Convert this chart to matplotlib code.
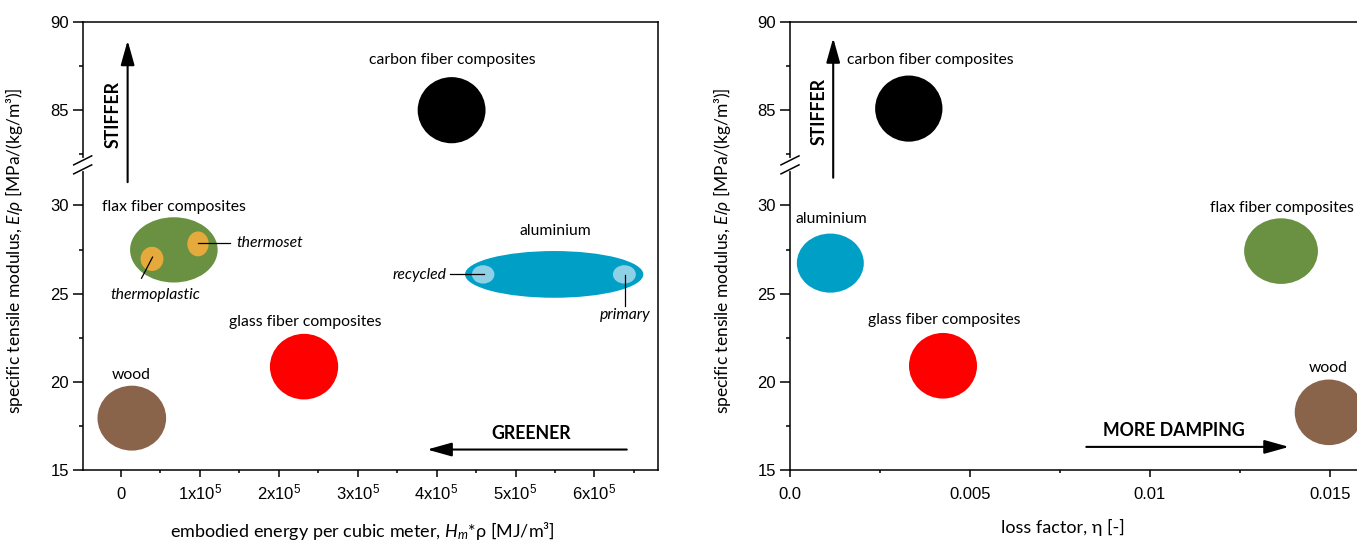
import numpy as np
import matplotlib
matplotlib.use("Agg")
import matplotlib.pyplot as plt
from matplotlib.patches import Ellipse, ArrowStyle

plt.rcParams['font.family'] = ['Lato', 'DejaVu Sans']
plt.rcParams['mathtext.fontset'] = 'custom'
plt.rcParams['mathtext.rm'] = 'Liberation Sans'
plt.rcParams['mathtext.it'] = 'Lato:italic'
plt.rcParams['mathtext.bf'] = 'Lato:bold'

# ---------------- data ----------------
# left panel: embodied energy vs specific modulus
mat_left = ['carbon fiber composites', 'flax fiber composites', 'aluminium',
            'glass fiber composites', 'wood']
energy_c = [4.19e5, 0.67e5, 5.49e5, 2.32e5, 0.137e5]
energy_w = [0.86e5, 1.11e5, 2.26e5, 0.865e5, 0.87e5]
modL_c = [85.0, 27.48, 26.09, 20.86, 17.94]
modL_h = [3.75, 3.7, 2.65, 3.72, 3.68]
colors_left = ['#000000', '#699141', '#00a0c6', '#ff0000', '#8a634b']
label_left_x = [4.2e5, 0.675e5, 5.5e5, 2.34e5, 0.128e5]
label_left_y = [87.85, 29.93, 28.54, 23.39, 20.39]

sub_names = ['thermoplastic', 'thermoset', 'recycled', 'primary']
sub_x = [0.393e5, 0.976e5, 4.59e5, 6.38e5]
sub_y = [26.97, 27.82, 26.09, 26.09]
sub_w = [0.29e5, 0.27e5, 0.285e5, 0.29e5]
sub_h = [1.37, 1.41, 1.04, 1.04]
sub_colors = ['#e6aa3c', '#e6aa3c', '#8ed1e6', '#8ed1e6']

# right panel: loss factor vs specific modulus
mat_right = ['carbon fiber composites', 'aluminium', 'glass fiber composites',
             'flax fiber composites', 'wood']
loss_c = [0.0033, 0.00112, 0.00425, 0.01364, 0.01497]
loss_w = [0.00187, 0.00186, 0.00189, 0.00205, 0.0019]
modR_c = [85.09, 26.73, 20.91, 27.41, 18.27]
modR_h = [3.75, 3.35, 3.72, 3.72, 3.72]
colors_right = ['#000000', '#00a0c6', '#ff0000', '#699141', '#8a634b']
label_right_x = [0.00157, 0.00115, 0.00428, 0.01566, 0.01494]
label_right_y = [87.86, 29.23, 23.52, 29.88, 20.76]
label_right_ha = ['left', 'center', 'center', 'right', 'center']

yticks_major = [15, 20, 25, 30, 85, 90]
yticks_minor = [17.5, 22.5, 27.5, 82.5, 87.5]
xticksL = [0, 1e5, 2e5, 3e5, 4e5, 5e5, 6e5]
xticksL_labels = ['0', '1x10$^5$', '2x10$^5$', '3x10$^5$', '4x10$^5$', '5x10$^5$', '6x10$^5$']
xticksL_minor = [0.5e5, 1.5e5, 2.5e5, 3.5e5, 4.5e5, 5.5e5, 6.5e5]
xticksR = [0.0, 0.005, 0.01, 0.015]
xticksR_labels = ['0.0', '0.005', '0.01', '0.015']
xticksR_minor = [0.0025, 0.0075, 0.0125]

# broken y axis via a piecewise-linear scale
BP_V = [-1e4, 31.9, 82.3, 1e4]
BP_T = [-1e4, 31.9, 32.7, 1e4 - 49.6]


def fwd(v):
    return np.interp(v, BP_V, BP_T)


def inv(t):
    return np.interp(t, BP_T, BP_V)


W, H = 1357, 541
fig = plt.figure(figsize=(W / 100, H / 100), dpi=100)
axL = fig.add_axes([82.7 / W, 71 / H, 575.3 / W, 448 / H])
axR = fig.add_axes([790 / W, 71 / H, 590 / W, 448 / H])

arrow_style = ArrowStyle('-|>', head_length=1.5, head_width=0.42)
FS_ANN = 11.3
FS_BOLD = 12.8
FS_TICK = 12


def style_axis(ax, wpx):
    ax.set_yscale('function', functions=(fwd, inv))
    ax.set_ylim(15, 90)
    ax.set_yticks(yticks_major)
    ax.set_yticklabels([str(v) for v in yticks_major])
    ax.set_yticks(yticks_minor, minor=True)
    for s in ax.spines.values():
        s.set_linewidth(1.1)
    ax.tick_params(axis='y', which='major', direction='out', length=7, width=1.1,
                   labelsize=FS_TICK, pad=3, labelfontfamily='Liberation Sans')
    ax.tick_params(axis='y', which='minor', direction='out', length=3, width=1.1)
    ax.tick_params(axis='x', which='major', direction='out', length=5, width=1.1,
                   labelsize=FS_TICK, pad=16, labelfontfamily='Liberation Sans')
    ax.tick_params(axis='x', which='minor', direction='out', length=2.5, width=1.1)
    # break marks on the left spine
    t0, t1 = fwd(15), fwd(90)
    yb = (0.5 * (fwd(31.9) + fwd(82.3)) - t0) / (t1 - t0)
    hpx = 448.0
    ax.plot([0, 0], [yb - 4.5 / hpx, yb + 4.5 / hpx], transform=ax.transAxes,
            color='white', lw=3, clip_on=False, zorder=5)
    for off in (-4.5, 4.5):
        ax.plot([-9 / wpx, 9 / wpx],
                [yb + (off - 4.5) / hpx, yb + (off + 4.5) / hpx],
                transform=ax.transAxes, color='black', lw=1.1,
                clip_on=False, zorder=6)


# ---------------- left panel ----------------
style_axis(axL, 575.3)
axL.set_xlim(-48540, 680600)
axL.set_xticks(xticksL)
axL.set_xticklabels(xticksL_labels)
axL.set_xticks(xticksL_minor, minor=True)
for lab in axL.get_xticklabels():
    lab.set_verticalalignment('baseline')

for x, y, w, h, c in zip(energy_c, modL_c, energy_w, modL_h, colors_left):
    axL.add_patch(Ellipse((x, y), w, h, facecolor=c, edgecolor='none', zorder=2))
for x, y, w, h, c in zip(sub_x, sub_y, sub_w, sub_h, sub_colors):
    axL.add_patch(Ellipse((x, y), w, h, facecolor=c, edgecolor='none', zorder=3))
for name, x, y in zip(mat_left, label_left_x, label_left_y):
    axL.text(x, y, name, ha='center', va='center', fontsize=FS_ANN)

# sub labels + leader lines
axL.plot([0.40e5, 0.26e5], [27.07, 25.87], color='k', lw=0.9, zorder=4)
axL.text(0.44e5, 24.9, 'thermoplastic', ha='center', va='center',
         fontsize=FS_ANN, style='italic')
axL.plot([0.982e5, 1.387e5], [27.87, 27.87], color='k', lw=0.9, zorder=4)
axL.text(1.458e5, 27.86, 'thermoset', ha='left', va='center',
         fontsize=FS_ANN, style='italic')
axL.plot([4.17e5, 4.6e5], [26.09, 26.09], color='k', lw=0.9, zorder=4)
axL.text(4.12e5, 26.06, 'recycled', ha='right', va='center',
         fontsize=FS_ANN, style='italic')
axL.plot([6.39e5, 6.39e5], [26.06, 24.32], color='k', lw=0.9, zorder=4)
axL.text(6.39e5, 23.8, 'primary', ha='center', va='center',
         fontsize=FS_ANN, style='italic')

# arrows
axL.annotate('', xy=(0.084e5, 88.95), xytext=(0.084e5, 31.32),
             arrowprops=dict(arrowstyle=arrow_style, mutation_scale=10, lw=1.5,
                             color='k', shrinkA=0, shrinkB=0))
axL.text(-0.1e5, 84.73, 'STIFFER', rotation=90, ha='center', va='center',
         fontsize=FS_BOLD, fontweight='bold')
axL.annotate('', xy=(3.88e5, 16.16), xytext=(6.41e5, 16.16),
             arrowprops=dict(arrowstyle=arrow_style, mutation_scale=10, lw=1.5,
                             color='k', shrinkA=0, shrinkB=0))
axL.text(5.2e5, 17.07, 'GREENER', ha='center', va='center',
         fontsize=FS_BOLD, fontweight='bold')

axL.set_ylabel('specific tensile modulus, $E/\\rho$ [MPa/(kg/m³)]', fontsize=12.5)
axL.yaxis.set_label_coords(-0.1003, 0.49)
axL.set_xlabel('embodied energy per cubic meter, $H_m$*ρ [MJ/m³]', fontsize=13,
               va='center')
axL.xaxis.set_label_coords(0.4855, -0.136)

# ---------------- right panel ----------------
style_axis(axR, 590.0)
axR.set_xlim(0, 590 / 36000)
axR.set_xticks(xticksR)
axR.set_xticklabels(xticksR_labels)
axR.set_xticks(xticksR_minor, minor=True)
for lab in axR.get_xticklabels():
    lab.set_verticalalignment('baseline')

for x, y, w, h, c in zip(loss_c, modR_c, loss_w, modR_h, colors_right):
    axR.add_patch(Ellipse((x, y), w, h, facecolor=c, edgecolor='none', zorder=2))
for name, x, y, ha in zip(mat_right, label_right_x, label_right_y, label_right_ha):
    axR.text(x, y, name, ha=ha, va='center', fontsize=FS_ANN)

axR.annotate('', xy=(0.0012, 89.09), xytext=(0.0012, 31.57),
             arrowprops=dict(arrowstyle=arrow_style, mutation_scale=10, lw=1.5,
                             color='k', shrinkA=0, shrinkB=0))
axR.text(0.00081, 84.93, 'STIFFER', rotation=90, ha='center', va='center',
         fontsize=FS_BOLD, fontweight='bold')
axR.annotate('', xy=(0.01386, 16.31), xytext=(0.00823, 16.31),
             arrowprops=dict(arrowstyle=arrow_style, mutation_scale=10, lw=1.5,
                             color='k', shrinkA=0, shrinkB=0))
axR.text(0.01066, 17.23, 'MORE DAMPING', ha='center', va='center',
         fontsize=FS_BOLD, fontweight='bold')

axR.set_ylabel('specific tensile modulus, $E/\\rho$ [MPa/(kg/m³)]', fontsize=12.5)
axR.yaxis.set_label_coords(-0.0966, 0.49)
axR.set_xlabel('loss factor, η [-]', fontsize=13, va='center')
axR.xaxis.set_label_coords(0.462, -0.128)

fig.savefig('out.png', dpi=100)
